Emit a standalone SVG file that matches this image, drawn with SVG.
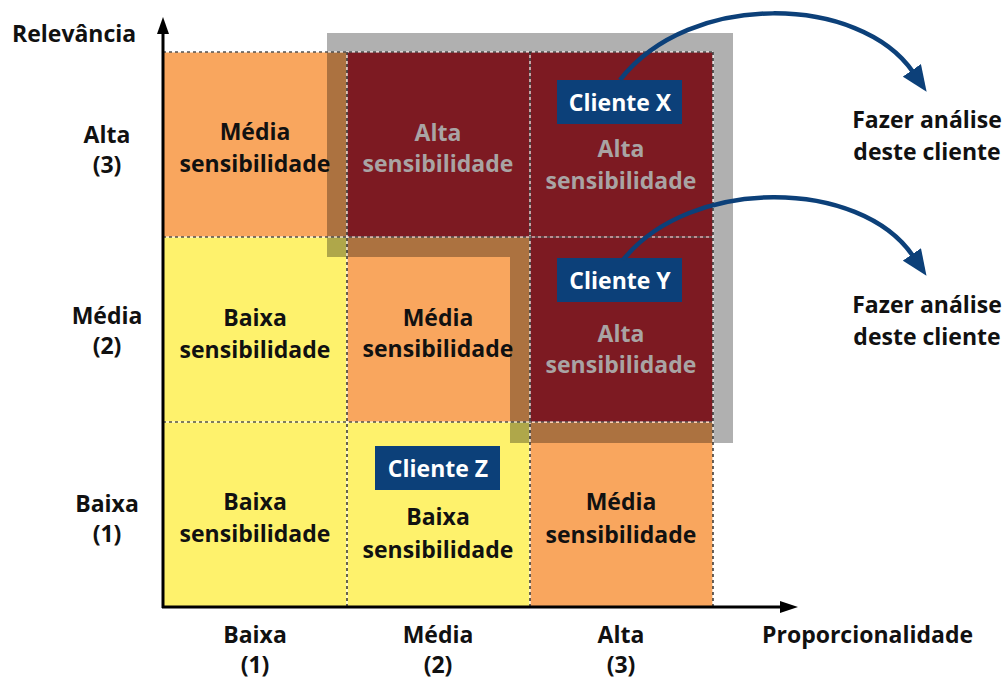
<svg xmlns="http://www.w3.org/2000/svg" width="1007" height="679" viewBox="0 0 1007 679">
<style>
text{font-family:"Open Sans","Liberation Sans",sans-serif;font-weight:700;font-size:23px;fill:#111;text-anchor:middle}
.gt{fill:#a9a4a4}
.wt{fill:#fff}
.st{text-anchor:start}
.orange{fill:#f9a65e}
.yellow{fill:#fef26c}
.dark{fill:#7d1a22}
.lbl{fill:#0c4079}
.gridw{stroke:#fff;stroke-width:1.2;fill:none}
.gridd{stroke:#000;stroke-width:1.2;stroke-dasharray:3 3;fill:none}
.conn{stroke:#0c4079;stroke-width:4.5;fill:none}
</style>
<defs>
<marker id="ah" viewBox="0 0 26 22" refX="2" refY="11" markerWidth="26" markerHeight="22" markerUnits="userSpaceOnUse" orient="auto">
<path d="M0,0 L26,11 L0,22 z" fill="#0c4079"/>
</marker>
</defs>
<rect width="1007" height="679" fill="#fff"/>

<!-- light cells -->
<g id="cell-r3c1"><rect class="orange" x="163" y="52" width="184" height="185"/><text x="255" y="140">Média</text><text x="255" y="172">sensibilidade</text></g>
<g id="cell-r2c1"><rect class="yellow" x="163" y="237" width="184" height="185"/><text x="255" y="326">Baixa</text><text x="255" y="358">sensibilidade</text></g>
<g id="cell-r2c2"><rect class="orange" x="347" y="237" width="183" height="185"/><text x="438" y="326">Média</text><text x="438" y="357">sensibilidade</text></g>
<g id="cell-r1c1"><rect class="yellow" x="163" y="422" width="184" height="184"/><text x="255" y="510">Baixa</text><text x="255" y="542">sensibilidade</text></g>
<g id="cell-r1c2"><rect class="yellow" x="347" y="422" width="183" height="184"/><text x="438" y="525">Baixa</text><text x="438" y="558">sensibilidade</text></g>
<g id="cell-r1c3"><rect class="orange" x="530" y="422" width="183" height="184"/><text x="621" y="510">Média</text><text x="621" y="543">sensibilidade</text></g>

<!-- highlight band -->
<g id="highlight"><path d="M337,43 L723,43 L723,433 L520,433 L520,247 L337,247 Z" fill="none" stroke="#000" stroke-opacity="0.31" stroke-width="20" stroke-linejoin="miter"/></g>

<!-- dark cells -->
<g id="cell-r3c2"><rect class="dark" x="347" y="52" width="183" height="185"/><text class="gt" x="438" y="141">Alta</text><text class="gt" x="438" y="172">sensibilidade</text></g>
<g id="cell-r3c3"><rect class="dark" x="530" y="52" width="183" height="185"/><text class="gt" x="621" y="157">Alta</text><text class="gt" x="621" y="189">sensibilidade</text></g>
<g id="cell-r2c3"><rect class="dark" x="530" y="237" width="183" height="185"/><text class="gt" x="621" y="342">Alta</text><text class="gt" x="621" y="373">sensibilidade</text></g>

<!-- grid -->
<g id="grid">
<path class="gridw" d="M163,52 H713 M163,237 H713 M163,422 H713 M347,52 V606 M530,52 V606 M713,52 V606"/>
<path class="gridd" d="M163,52 H713 M163,237 H713 M163,422 H713 M347,52 V606 M530,52 V606 M713,52 V606"/>
</g>

<!-- client labels -->
<g id="cliente-x"><rect class="lbl" x="557" y="80" width="125" height="44"/><text class="wt" x="620" y="111">Cliente X</text></g>
<g id="cliente-y"><rect class="lbl" x="557" y="258" width="125" height="44"/><text class="wt" x="620" y="289">Cliente Y</text></g>
<g id="cliente-z"><rect class="lbl" x="375" y="446" width="125" height="44"/><text class="wt" x="438" y="477">Cliente Z</text></g>

<!-- axes -->
<g id="axes">
<line x1="163" y1="608" x2="163" y2="30" stroke="#000" stroke-width="3"/>
<path d="M157,34 L163,17 L169,34 Z" fill="#000"/>
<line x1="162" y1="607" x2="784" y2="607" stroke="#000" stroke-width="3"/>
<path d="M780,601 L798,607 L780,613 Z" fill="#000"/>
<text class="st" x="12" y="42">Relevância</text>
<text x="107" y="143">Alta</text><text x="107" y="173">(3)</text>
<text x="107" y="324">Média</text><text x="107" y="354">(2)</text>
<text x="107" y="512">Baixa</text><text x="107" y="542">(1)</text>
<text x="255" y="643">Baixa</text><text x="255" y="673">(1)</text>
<text x="438" y="643">Média</text><text x="438" y="673">(2)</text>
<text x="621" y="643">Alta</text><text x="621" y="673">(3)</text>
<text class="st" x="762" y="643">Proporcionalidade</text>
</g>

<!-- connectors -->
<g id="connectors">
<path class="conn" d="M620,80 C690,-10 860,-5 913,72" marker-end="url(#ah)"/>
<path class="conn" d="M623,260 C690,176 860,178 913,256" marker-end="url(#ah)"/>
</g>

<g id="note-x"><text x="927" y="128">Fazer análise</text><text x="927" y="160">deste cliente</text></g>
<g id="note-y"><text x="927" y="313">Fazer análise</text><text x="927" y="345">deste cliente</text></g>
</svg>
